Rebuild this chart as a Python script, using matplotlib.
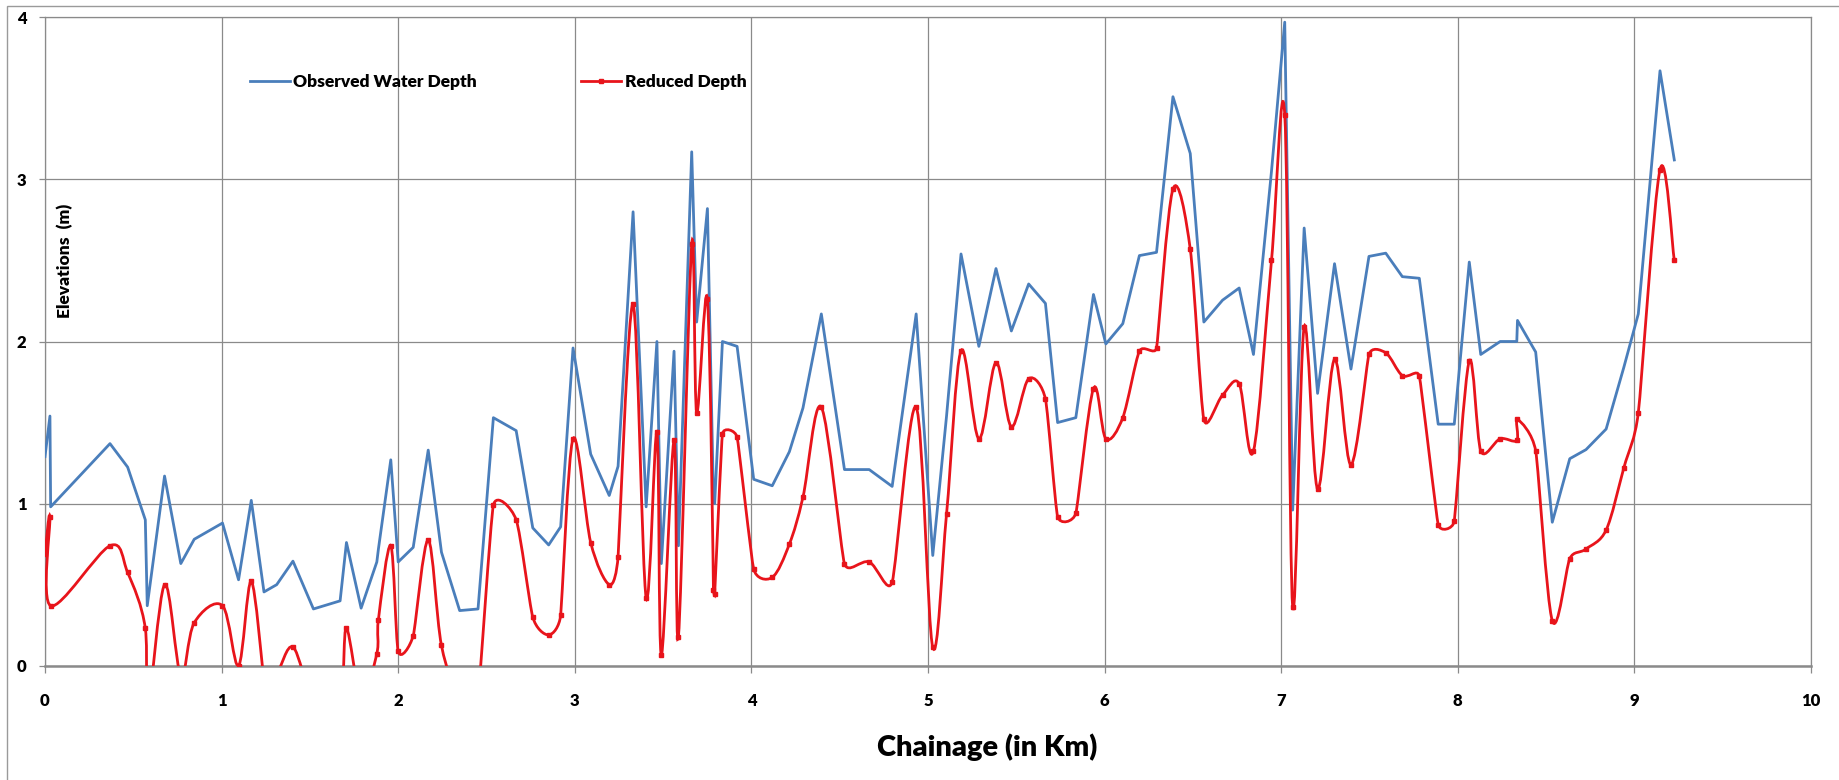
import numpy as np
import matplotlib
matplotlib.use("Agg")
import matplotlib.pyplot as plt
from matplotlib.path import Path
from matplotlib.patches import PathPatch, Rectangle
from matplotlib.lines import Line2D

plt.rcParams['font.family'] = ['Lato', 'DejaVu Sans']

# chainage (km), observed water depth (m), reduced depth (m)
chainage = [0.000, 0.028, 0.032, 0.368, 0.468, 0.568, 0.579, 0.677, 0.769, 0.845,
            1.005, 1.096, 1.168, 1.240, 1.312, 1.404, 1.520, 1.671, 1.707, 1.790,
            1.879, 1.888, 1.958, 2.000, 2.085, 2.170, 2.245, 2.348, 2.452, 2.539,
            2.668, 2.762, 2.852, 2.920, 2.990, 3.090, 3.195, 3.245, 3.330, 3.404,
            3.465, 3.490, 3.562, 3.587, 3.662, 3.690, 3.751, 3.785, 3.792, 3.836,
            3.919, 4.013, 4.118, 4.215, 4.292, 4.396, 4.527, 4.667, 4.797, 4.933,
            5.027, 5.105, 5.187, 5.288, 5.385, 5.472, 5.570, 5.665, 5.734, 5.837,
            5.937, 6.007, 6.103, 6.197, 6.294, 6.387, 6.485, 6.562, 6.668, 6.762,
            6.843, 6.945, 7.020, 7.065, 7.130, 7.206, 7.302, 7.395, 7.497, 7.592,
            7.686, 7.782, 7.889, 7.980, 8.065, 8.130, 8.240, 8.334, 8.338, 8.441,
            8.535, 8.634, 8.726, 8.840, 8.940, 9.022, 9.145, 9.226]

observed = [1.29, 1.54, 0.98, 1.37, 1.225, 0.90, 0.37, 1.17, 0.63, 0.78,
            0.88, 0.53, 1.02, 0.455, 0.50, 0.645, 0.35, 0.40, 0.76, 0.355,
            0.64, 0.72, 1.27, 0.64, 0.73, 1.33, 0.70, 0.34, 0.35, 1.53,
            1.45, 0.85, 0.745, 0.857, 1.96, 1.305, 1.05, 1.23, 2.80, 0.98,
            2.00, 0.63, 1.94, 0.74, 3.17, 2.12, 2.82, 1.04, 1.00, 2.00,
            1.97, 1.15, 1.11, 1.32, 1.59, 2.17, 1.21, 1.21, 1.106, 2.17,
            0.68, 1.54, 2.54, 1.97, 2.45, 2.065, 2.355, 2.235, 1.50, 1.53,
            2.29, 1.985, 2.11, 2.53, 2.55, 3.51, 3.16, 2.12, 2.255, 2.33,
            1.92, 3.05, 3.97, 0.96, 2.70, 1.68, 2.48, 1.83, 2.525, 2.545,
            2.40, 2.39, 1.49, 1.49, 2.49, 1.92, 2.00, 2.00, 2.13, 1.935,
            0.885, 1.277, 1.333, 1.46, 1.84, 2.17, 3.67, 3.12]

reduced = [0.69, 0.92, 0.37, 0.74, 0.575, 0.23, -0.30, 0.50, -0.06, 0.265,
           0.37, 0.0, 0.52, -0.08, -0.05, 0.115, -0.20, -0.15, 0.23, -0.19,
           0.075, 0.285, 0.74, 0.09, 0.185, 0.775, 0.125, -0.20, -0.20, 0.99,
           0.90, 0.30, 0.19, 0.31, 1.40, 0.76, 0.50, 0.67, 2.23, 0.42,
           1.44, 0.065, 1.39, 0.18, 2.60, 1.56, 2.26, 0.47, 0.44, 1.43,
           1.41, 0.596, 0.545, 0.75, 1.04, 1.595, 0.63, 0.64, 0.516, 1.595,
           0.113, 0.936, 1.943, 1.40, 1.87, 1.475, 1.77, 1.645, 0.92, 0.94,
           1.71, 1.40, 1.53, 1.94, 1.96, 2.94, 2.57, 1.52, 1.67, 1.74,
           1.325, 2.50, 3.40, 0.363, 2.09, 1.09, 1.89, 1.24, 1.92, 1.93,
           1.79, 1.787, 0.87, 0.89, 1.88, 1.325, 1.40, 1.39, 1.52, 1.325,
           0.278, 0.66, 0.72, 0.837, 1.22, 1.56, 3.06, 2.50]

x_ticks = [0, 1, 2, 3, 4, 5, 6, 7, 8, 9, 10]
y_ticks = [0, 1, 2, 3, 4]

blue = '#4a7ebb'
red = '#e8141b'
grey = '#8a8a8a'


def smooth_path(ax, xs, ys):
    # spreadsheet style "smoothed line": bezier segments, control arms
    # limited to half of the shorter neighbouring segment (in pixels)
    p = ax.transData.transform(np.column_stack([xs, ys]))
    n = len(p)
    before = np.zeros_like(p)
    after = np.zeros_like(p)
    for i in range(n):
        p0 = p[max(i - 1, 0)]
        p2 = p[min(i + 1, n - 1)]
        t = p2 - p0
        d02 = np.hypot(*t)
        d01 = np.hypot(*(p[i] - p0))
        d12 = np.hypot(*(p2 - p[i]))
        f = 1 / 6
        if d02 > 0:
            f = min(f, d01 / (2 * d02) if i > 0 else f, d12 / (2 * d02) if i < n - 1 else f)
        before[i] = p[i] - t * f
        after[i] = p[i] + t * f
    verts = [p[0]]
    codes = [Path.MOVETO]
    for i in range(n - 1):
        verts += [after[i], before[i + 1], p[i + 1]]
        codes += [Path.CURVE4] * 3
    verts = ax.transData.inverted().transform(np.array(verts))
    return Path(verts, codes)


fig = plt.figure(figsize=(18.39, 7.8), dpi=100)
ax = fig.add_axes([45 / 1839, 1 - 665.7 / 780, 1766 / 1839, 648.4 / 780])
ax.set_xlim(0, 10)
ax.set_ylim(0, 4)

ax.plot(chainage, observed, color=blue, lw=2.0, zorder=3)
ax.add_patch(PathPatch(smooth_path(ax, chainage, reduced), facecolor='none',
                       edgecolor=red, lw=2.0, zorder=4))
ax.plot(chainage, reduced, ls='none', marker='s', ms=3.2, color=red, zorder=5)

ax.set_xticks(x_ticks)
ax.set_yticks(y_ticks)
ax.grid(True, color=grey, lw=0.9)
ax.set_axisbelow(True)
for s in ax.spines.values():
    s.set_color(grey)
    s.set_linewidth(0.9)
ax.spines['bottom'].set_linewidth(1.8)
ax.tick_params(axis='x', length=5, width=0.9, color=grey, pad=15, labelsize=12)
ax.tick_params(axis='y', length=4.5, width=0.9, color=grey, pad=9, labelsize=12)
for lab in ax.get_xticklabels() + ax.get_yticklabels():
    lab.set_fontweight('heavy')

ax.text(0.0113, 0.625, 'Elevations  (m)', transform=ax.transAxes, rotation=90,
        ha='center', va='center', fontsize=12.5, fontweight='heavy')

fig.text(987 / 1839, 1 - 747 / 780, 'Chainage (in Km)', ha='center', va='center',
         fontsize=21, fontweight='heavy')

handles = [Line2D([], [], color=blue, lw=2.0),
           Line2D([], [], color=red, lw=2.0, marker='s', ms=3.2)]
fig.legend(handles, ['Observed Water Depth', 'Reduced Depth'], ncol=2,
           loc='center left', bbox_to_anchor=(250 / 1839, 1 - 81.7 / 780),
           frameon=False, prop={'weight': 'heavy', 'size': 12.5},
           handlelength=2.3, handletextpad=0.2, columnspacing=6.0,
           borderpad=0, borderaxespad=0, numpoints=1)

fig.patches.append(Rectangle((7 / 1839, -0.05), 1.2, 0.9923 + 0.05,
                             transform=fig.transFigure, fill=False,
                             edgecolor='#9a9a9a', lw=1.0))

fig.savefig('out.png', dpi=100)
